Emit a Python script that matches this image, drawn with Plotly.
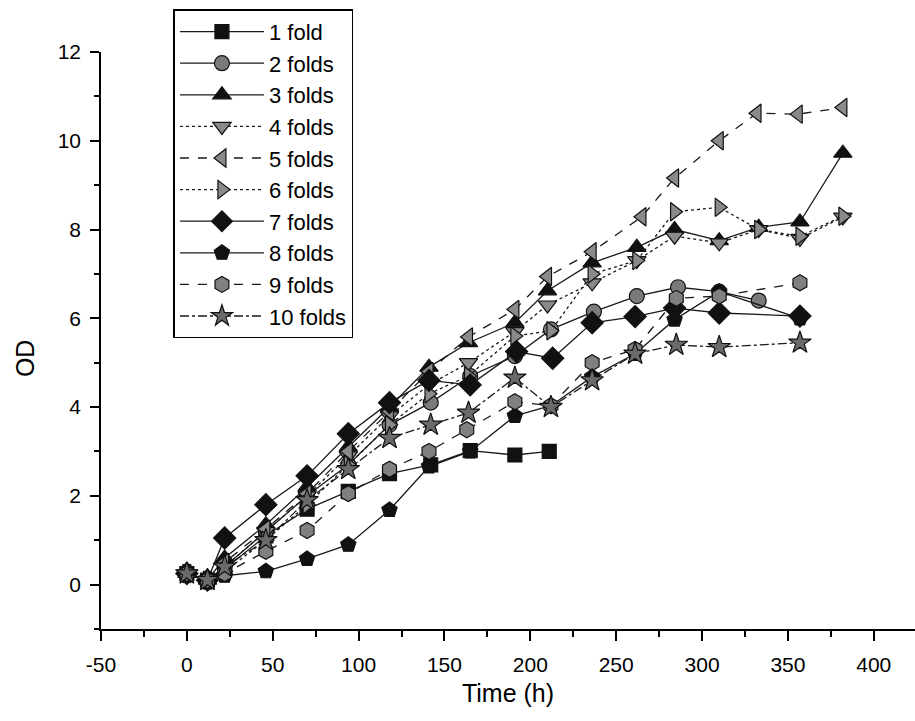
import plotly.graph_objects as go

names = ["1 fold", "2 folds", "3 folds", "4 folds", "5 folds",
         "6 folds", "7 folds", "8 folds", "9 folds", "10 folds"]

t1 = [0, 12, 22, 46, 70, 94, 118, 142, 165, 191, 211]
y1 = [0.25, 0.1, 0.35, 1.1, 1.7, 2.1, 2.5, 2.7, 3.02, 2.92, 3.0]

t2 = [0, 12, 22, 46, 70, 94, 118, 142, 165, 191, 212, 237, 262, 286, 310, 333]
y2 = [0.25, 0.1, 0.4, 1.2, 2.0, 2.7, 3.6, 4.1, 4.7, 5.15, 5.75, 6.15, 6.5, 6.7, 6.6, 6.4]

t3 = [0, 12, 22, 46, 70, 94, 118, 141, 164, 191, 210, 236, 262, 284, 310, 333, 357, 382]
y3 = [0.25, 0.1, 0.6, 1.35, 2.2, 3.1, 4.0, 4.9, 5.45, 5.9, 6.62, 7.25, 7.6, 8.0, 7.75, 8.05, 8.17, 9.72]

t4 = [0, 12, 22, 46, 70, 94, 118, 141, 164, 191, 210, 236, 262, 284, 310, 333, 357, 382]
y4 = [0.25, 0.1, 0.4, 1.2, 2.0, 2.9, 3.8, 4.5, 5.0, 5.7, 6.3, 6.8, 7.3, 7.85, 7.7, 8.0, 7.8, 8.28]

t5 = [0, 12, 22, 46, 70, 94, 118, 141, 164, 191, 210, 236, 265, 284, 310, 332, 356, 382]
y5 = [0.25, 0.1, 0.5, 1.25, 2.05, 3.0, 3.9, 4.8, 5.58, 6.2, 6.94, 7.5, 8.29, 9.16, 10.0, 10.62, 10.6, 10.75]

t6 = [0, 12, 22, 46, 70, 94, 118, 141, 164, 191, 212, 236, 262, 284, 310, 333, 357, 382]
y6 = [0.25, 0.1, 0.3, 1.0, 1.8, 2.7, 3.6, 4.3, 4.7, 5.6, 5.72, 7.0, 7.3, 8.4, 8.5, 8.0, 7.85, 8.3]

t7 = [0, 12, 22, 46, 70, 94, 118, 141, 165, 192, 213, 236, 261, 284, 310, 357]
y7 = [0.25, 0.1, 1.05, 1.8, 2.45, 3.4, 4.1, 4.6, 4.5, 5.25, 5.1, 5.9, 6.04, 6.23, 6.12, 6.05]

t8 = [0, 12, 22, 46, 70, 94, 118, 141, 165, 191, 212, 236, 261, 284, 310, 357]
y8 = [0.25, 0.1, 0.2, 0.3, 0.58, 0.9, 1.68, 2.66, 3.0, 3.8, 4.03, 4.68, 5.2, 5.97, 6.6, 6.0]

t9 = [0, 12, 22, 46, 70, 94, 118, 141, 163, 191, 212, 236, 261, 285, 310, 357]
y9 = [0.25, 0.1, 0.25, 0.75, 1.22, 2.05, 2.6, 3.0, 3.49, 4.12, 4.03, 5.0, 5.3, 6.45, 6.5, 6.8]

t10 = [0, 12, 22, 46, 70, 94, 118, 142, 164, 191, 212, 236, 261, 285, 310, 357]
y10 = [0.25, 0.1, 0.4, 1.0, 1.9, 2.6, 3.3, 3.6, 3.87, 4.66, 4.0, 4.6, 5.2, 5.4, 5.35, 5.45]

x_ticks = [-50, 0, 50, 100, 150, 200, 250, 300, 350, 400]
x_labels = ["-50", "0", "50", "100", "150", "200", "250", "300", "350", "400"]
y_ticks = [0, 2, 4, 6, 8, 10, 12]
y_labels = ["0", "2", "4", "6", "8", "10", "12"]

times = [t1, t2, t3, t4, t5, t6, t7, t8, t9, t10]
values = [y1, y2, y3, y4, y5, y6, y7, y8, y9, y10]

symbols = ["square", "circle", "triangle-up", "triangle-down", "triangle-left",
           "triangle-right", "diamond", "pentagon", "hexagon", "star"]
fills = ["#111111", "#7a7a7a", "#111111", "#8a8a8a", "#8a8a8a",
         "#8a8a8a", "#111111", "#111111", "#808080", "#6a6a6a"]
dashes = ["solid", "solid", "solid", "dot", "dash", "dot", "solid", "solid", "dash", "dashdot"]
sizes = [14, 15, 16, 16, 16, 16, 17, 16, 16, 17]

fig = go.Figure()
for n, t, v, s, f, d, sz in zip(names, times, values, symbols, fills, dashes, sizes):
    fig.add_trace(go.Scatter(
        x=t, y=v, name=n, mode="lines+markers",
        line=dict(color="#1a1a1a", width=1.3, dash=d),
        marker=dict(symbol=s, size=sz, color=f, line=dict(color="#111111", width=1.2)),
    ))

fig.add_annotation(
    text="OD", xref="paper", yref="paper", x=-0.093, y=0.47,
    xanchor="center", yanchor="middle", textangle=-90, showarrow=False,
    font=dict(size=25),
)

fig.update_layout(
    width=915, height=721,
    margin=dict(l=101, r=0, t=52, b=92),
    paper_bgcolor="white", plot_bgcolor="white",
    font=dict(family="Liberation Sans, Arial, sans-serif", color="black"),
    showlegend=True,
    legend=dict(
        x=0.089, y=1.074, xanchor="left", yanchor="top",
        bordercolor="black", borderwidth=1.5, bgcolor="white",
        font=dict(size=22), tracegroupgap=0, itemwidth=84,
    ),
    xaxis=dict(
        range=[-50, 424], tickmode="array", tickvals=x_ticks, ticktext=x_labels,
        ticks="outside", ticklen=10, tickwidth=1.5, tickcolor="black",
        showline=True, linecolor="black", linewidth=1.5, showgrid=False,
        zeroline=False, tickfont=dict(size=21), ticklabelstandoff=6,
        minor=dict(ticks="outside", ticklen=6, tickwidth=1.5, tickcolor="black", dtick=25, tick0=-50),
        title=dict(text="Time (h)", font=dict(size=25), standoff=10),
    ),
    yaxis=dict(
        range=[-1, 12], tickmode="array", tickvals=y_ticks, ticktext=y_labels,
        ticks="outside", ticklen=9, tickwidth=1.5, tickcolor="black",
        showline=True, linecolor="black", linewidth=1.5, showgrid=False,
        zeroline=False, tickfont=dict(size=21), ticklabelstandoff=5,
        minor=dict(ticks="outside", ticklen=5, tickwidth=1.5, tickcolor="black", dtick=1, tick0=-1),
    ),
)

fig.write_html("out.html")
